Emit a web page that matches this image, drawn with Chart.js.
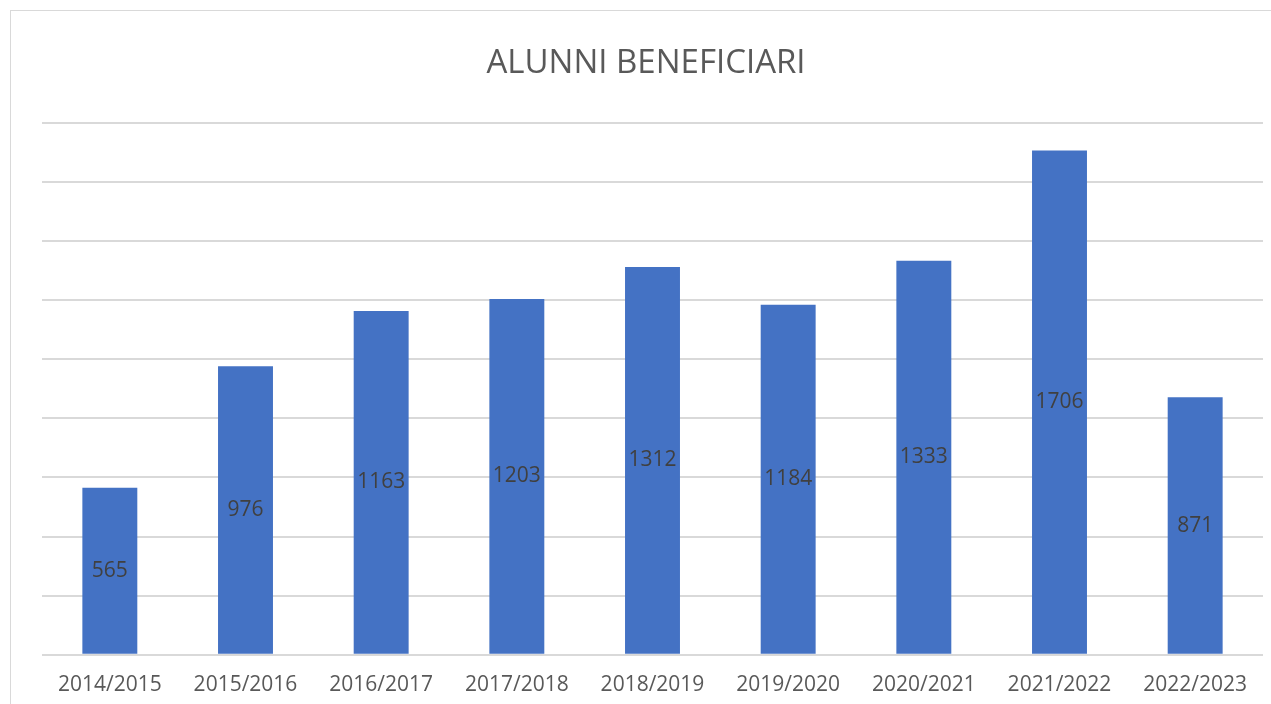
<!DOCTYPE html>
<html>
<head>
<meta charset="utf-8">
<script src="https://cdn.jsdelivr.net/npm/chart.js@4/dist/chart.umd.min.js"></script>
<style>
html,body{margin:0;padding:0;background:#fff;overflow:hidden;width:1271px;height:704px;}
#wrap{position:absolute;left:10px;top:10px;width:1272px;height:718px;border:1px solid #d9d9d9;box-sizing:border-box;}
canvas{display:block;}
</style>
</head>
<body>
<div id="wrap"><canvas id="c" width="1270" height="716"></canvas></div>
<script>
const categories = ["2014/2015","2015/2016","2016/2017","2017/2018","2018/2019","2019/2020","2020/2021","2021/2022","2022/2023"];
const values = [565, 976, 1163, 1203, 1312, 1184, 1333, 1706, 871];
const yMin = 0, yMax = 1800, yStep = 200;
const titleText = "ALUNNI BENEFICIARI";

const FONT = "'Open Sans', 'Noto Sans', sans-serif";

const barLabels = {
  id: 'barLabels',
  afterDatasetsDraw(chart) {
    const ctx = chart.ctx;
    const meta = chart.getDatasetMeta(0);
    ctx.save();
    ctx.font = "21px " + FONT;
    ctx.fillStyle = "#404040";
    ctx.textAlign = "center";
    ctx.textBaseline = "middle";
    meta.data.forEach((bar, i) => {
      const p = bar.getProps(['x','y','base'], true);
      ctx.fillText(String(values[i]), p.x, (p.y + p.base) / 2);
    });
    ctx.restore();
  }
};

new Chart(document.getElementById('c'), {
  type: 'bar',
  data: {
    labels: categories,
    datasets: [{
      data: values,
      backgroundColor: '#4472c4',
      borderWidth: 0,
      categoryPercentage: 1,
      barPercentage: 0.405
    }]
  },
  options: {
    responsive: false,
    animation: false,
    devicePixelRatio: 1,
    layout: { padding: { left: 18, right: 18, top: 0, bottom: 19 } },
    plugins: {
      legend: { display: false },
      tooltip: { enabled: false },
      title: {
        display: true,
        text: titleText,
        color: '#595959',
        font: { family: FONT, size: 33, weight: 'normal' },
        padding: { top: 33, bottom: 39 }
      }
    },
    scales: {
      x: {
        grid: { display: false },
        border: { display: false },
        ticks: { color: '#595959', font: { family: FONT, size: 21 }, padding: 10, maxRotation: 0 }
      },
      y: {
        min: yMin, max: yMax,
        ticks: { display: false, stepSize: yStep },
        grid: { color: '#d9d9d9', lineWidth: 2, drawTicks: false },
        border: { display: false },
        afterFit(s) { s.width = 13; }
      }
    }
  },
  plugins: [barLabels]
});
</script>
</body>
</html>
